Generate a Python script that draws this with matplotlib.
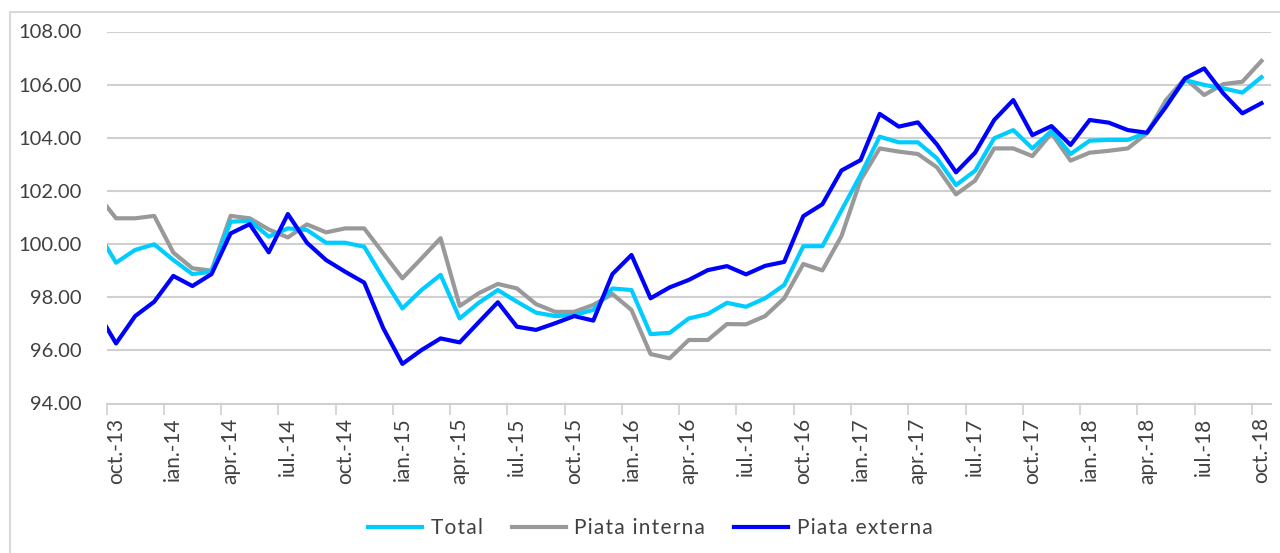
import numpy as np
import matplotlib
matplotlib.use("Agg")
import matplotlib.pyplot as plt
from matplotlib.patches import Rectangle

plt.rcParams['font.family'] = ['Lato', 'DejaVu Sans']

# prima valoare = sep-13 (doar capatul liniei, taiat de marginea graficului), apoi oct-13 ... oct-18
total = [100.49,
         99.30, 99.78, 99.99, 99.40, 98.87, 98.96, 100.84, 100.88, 100.28, 100.59,
         100.53, 100.05, 100.05, 99.90, 98.71, 97.58, 98.27, 98.84, 97.20, 97.79,
         98.27, 97.83, 97.42, 97.29, 97.33, 97.52, 98.33, 98.27, 96.61, 96.66,
         97.20, 97.37, 97.79, 97.64, 97.96, 98.46, 99.92, 99.92, 101.27, 102.60,
         104.04, 103.83, 103.83, 103.23, 102.22, 102.76, 103.98, 104.29, 103.60, 104.26,
         103.39, 103.89, 103.92, 103.92, 104.19, 105.23, 106.17, 105.99, 105.86, 105.70,
         106.28]
piata_interna = [101.88,
                 100.97, 100.97, 101.06, 99.68, 99.09, 99.00, 101.06, 100.97, 100.55, 100.25,
                 100.74, 100.44, 100.59, 100.59, 99.65, 98.71, 99.46, 100.22, 97.67, 98.15,
                 98.50, 98.33, 97.74, 97.45, 97.45, 97.71, 98.12, 97.52, 95.86, 95.70,
                 96.39, 96.39, 96.99, 96.98, 97.29, 97.96, 99.25, 99.01, 100.30, 102.41,
                 103.60, 103.48, 103.39, 102.89, 101.87, 102.39, 103.60, 103.60, 103.31, 104.17,
                 103.14, 103.44, 103.51, 103.60, 104.17, 105.42, 106.24, 105.61, 106.02, 106.11,
                 106.89]
piata_externa = [97.48,
                 96.26, 97.29, 97.83, 98.80, 98.42, 98.87, 100.40, 100.75, 99.69, 101.13,
                 100.05, 99.40, 98.96, 98.55, 96.83, 95.49, 96.01, 96.45, 96.30, 97.06,
                 97.81, 96.89, 96.77, 97.02, 97.29, 97.12, 98.87, 99.59, 97.96, 98.37,
                 98.65, 99.02, 99.17, 98.86, 99.18, 99.33, 101.05, 101.50, 102.77, 103.16,
                 104.90, 104.42, 104.58, 103.75, 102.70, 103.44, 104.67, 105.42, 104.10, 104.44,
                 103.73, 104.67, 104.57, 104.29, 104.19, 105.17, 106.24, 106.61, 105.67, 104.92,
                 105.30]

tick_labels = ["oct.-13", "ian.-14", "apr.-14", "iul.-14", "oct.-14", "ian.-15", "apr.-15",
               "iul.-15", "oct.-15", "ian.-16", "apr.-16", "iul.-16", "oct.-16", "ian.-17",
               "apr.-17", "iul.-17", "oct.-17", "ian.-18", "apr.-18", "iul.-18", "oct.-18"]
series_names = ["Total", "Piata interna", "Piata externa"]


def spaced(s):
    # spatiere intre litere ca in legenda originala
    return "\u200a".join(s)


x = np.arange(len(total)) - 1  # sep-13 la -1, oct-13 la 0

fig = plt.figure(figsize=(12.8, 5.53), dpi=100)
fig.patches.append(Rectangle((10 / 1280, -0.1), 1.2, 1 - 12 / 553 + 0.1,
                             transform=fig.transFigure, fill=False,
                             edgecolor="#D9D9D9", linewidth=1.5))
ax = fig.add_axes([106.5 / 1280, 1 - 403.5 / 553, (1271 - 106.5) / 1280, 372 / 553])

ax.plot(x, total, color="#00CCFF", lw=3, label=spaced(series_names[0]), zorder=3)
ax.plot(x, piata_interna, color="#999999", lw=3, label=spaced(series_names[1]), zorder=2)
ax.plot(x, piata_externa, color="#0000FF", lw=3, label=spaced(series_names[2]), zorder=4)

ax.set_xlim(-0.5, 60.5)
ax.set_ylim(94, 108)
yt = np.arange(94, 108.1, 2)
ax.set_yticks(yt)
ax.set_yticklabels([f"{v:.2f}" for v in yt])
ax.yaxis.grid(True, color="#D0D0D0", lw=1.5)
ax.set_axisbelow(True)

# etichete la mijlocul categoriilor, gradatii la granite
ax.set_xticks(np.arange(0, 61, 3))
ax.set_xticklabels(tick_labels, rotation=90)
ax.set_xticks(np.arange(-0.5, 61, 3), minor=True)
ax.tick_params(axis="x", which="major", length=0, pad=10, labelsize=15, colors="#404040")
ax.tick_params(axis="x", which="minor", length=8, width=1.2, color="#D0D0D0")
ax.tick_params(axis="y", length=0, pad=18, labelsize=14.5, colors="#404040")

for s in ["top", "right", "left"]:
    ax.spines[s].set_visible(False)
ax.spines["bottom"].set_color("#D0D0D0")
ax.spines["bottom"].set_linewidth(1.5)

leg = fig.legend(loc="center", bbox_to_anchor=(0.508, 1 - 528 / 553), ncol=3,
                 frameon=False, fontsize=15, handlelength=2.6, columnspacing=1.4,
                 handletextpad=0.4)
for t in leg.get_texts():
    t.set_color("#404040")

fig.savefig("out.png", dpi=100)
